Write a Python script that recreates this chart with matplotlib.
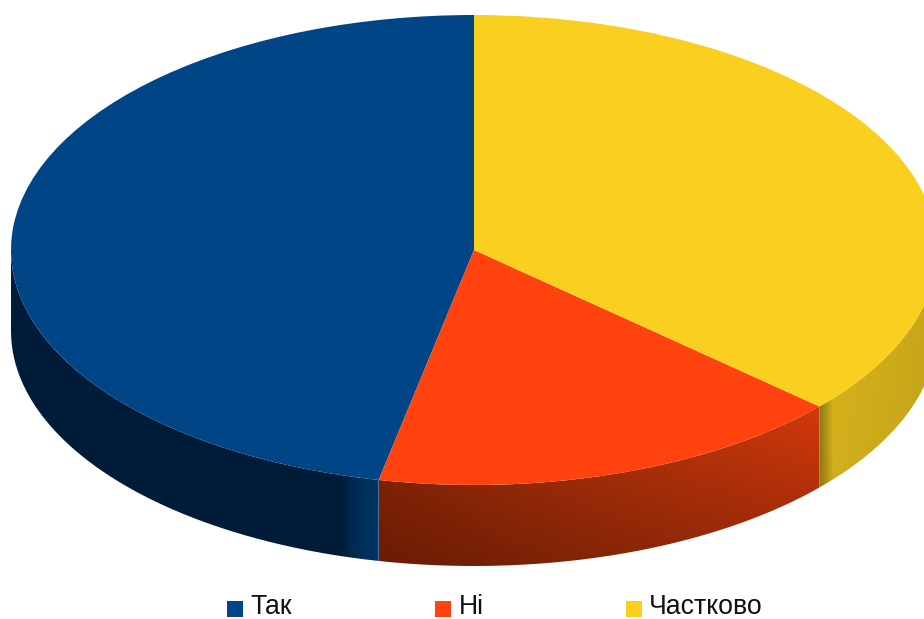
import numpy as np
import matplotlib
matplotlib.use("Agg")
import matplotlib.pyplot as plt
from matplotlib.colors import LinearSegmentedColormap
from matplotlib.patches import Rectangle, PathPatch
from matplotlib.path import Path

categories = ["Так", "Ні", "Частково"]
values = [46.7, 16.7, 36.6]
colors = ["#004586", "#ff420e", "#f9d01f"]

# wall shading: position along a slice's visible wall -> colour
wall_stops = {
    "Так": [(0.0, "#001c38"), (0.90, "#001c38"), (0.93, "#002a50"), (1.0, "#003566")],
    "Ні": [(0.0, "#922707"), (0.5, "#b5320a"), (1.0, "#d2390c")],
    "Частково": [(0.0, "#8f7a14"), (0.12, "#d8b41c"), (0.6, "#d0ad1a"), (1.0, "#c8a618")],
}
wall_bottom_factor = {"Так": 1.0, "Ні": 0.72, "Частково": 0.97}

W, H = 924, 619
cx, cy, rx, ry, depth_px = 474, 250, 463, 235, 81
depth = depth_px / ry

fig = plt.figure(figsize=(W / 100, H / 100), dpi=100, facecolor="white")
ax = fig.add_axes([0, 0, 1, 1])

# top face: ordinary pie, stretched into an ellipse by the non-equal aspect
wedges, _ = ax.pie(values, colors=colors, startangle=90, counterclock=True,
                   radius=1, wedgeprops={"linewidth": 0})
ax.set_aspect("auto")
ax.set_axis_off()
for w in wedges:
    w.set_zorder(5)

# side wall: one gradient per slice, clipped to the slice's part of the rim
theta = 90.0
for name, val in zip(categories, values):
    t0, t1 = theta, theta + val * 3.6
    theta = t1
    a = max(t0, 180.0)
    b = min(t1, 360.0)
    if b <= a:
        continue
    ang = np.radians(np.linspace(a, b, 300))
    xs, ys = np.cos(ang), np.sin(ang)
    verts = np.r_[np.c_[xs, ys], np.c_[xs, ys - depth][::-1], [[xs[0], ys[0]]]]
    clip = PathPatch(Path(verts), facecolor="none", edgecolor="none", transform=ax.transData)
    ax.add_patch(clip)
    cmap = LinearSegmentedColormap.from_list(name, wall_stops[name])
    rgb = cmap(np.linspace(0, 1, 512))[:, :3][None, :, :]
    shade = np.linspace(1, wall_bottom_factor[name], 256)[:, None, None]
    im = ax.imshow(rgb * shade, extent=(xs.min(), xs.max(), ys.min() - depth, ys.max()),
                   aspect="auto", zorder=3, interpolation="bilinear", origin="upper")
    im.set_clip_path(clip)

ax.set_xlim(-cx / rx, (W - cx) / rx)
ax.set_ylim(-(H - cy) / ry, cy / ry)

# legend
swatch_x = [227, 435, 626]
text_x = [250, 459, 649]
for name, c, sx, tx in zip(categories, colors, swatch_x, text_x):
    fig.add_artist(Rectangle((sx / W, 1 - 617 / H), 16 / W, 16 / H, transform=fig.transFigure,
                             facecolor=c, edgecolor="none"))
    fig.text(tx / W, 1 - 613.5 / H, name, family="Liberation Sans", fontsize=19.2,
             color="#111111", va="baseline", ha="left")

fig.savefig("out.png", dpi=100)
